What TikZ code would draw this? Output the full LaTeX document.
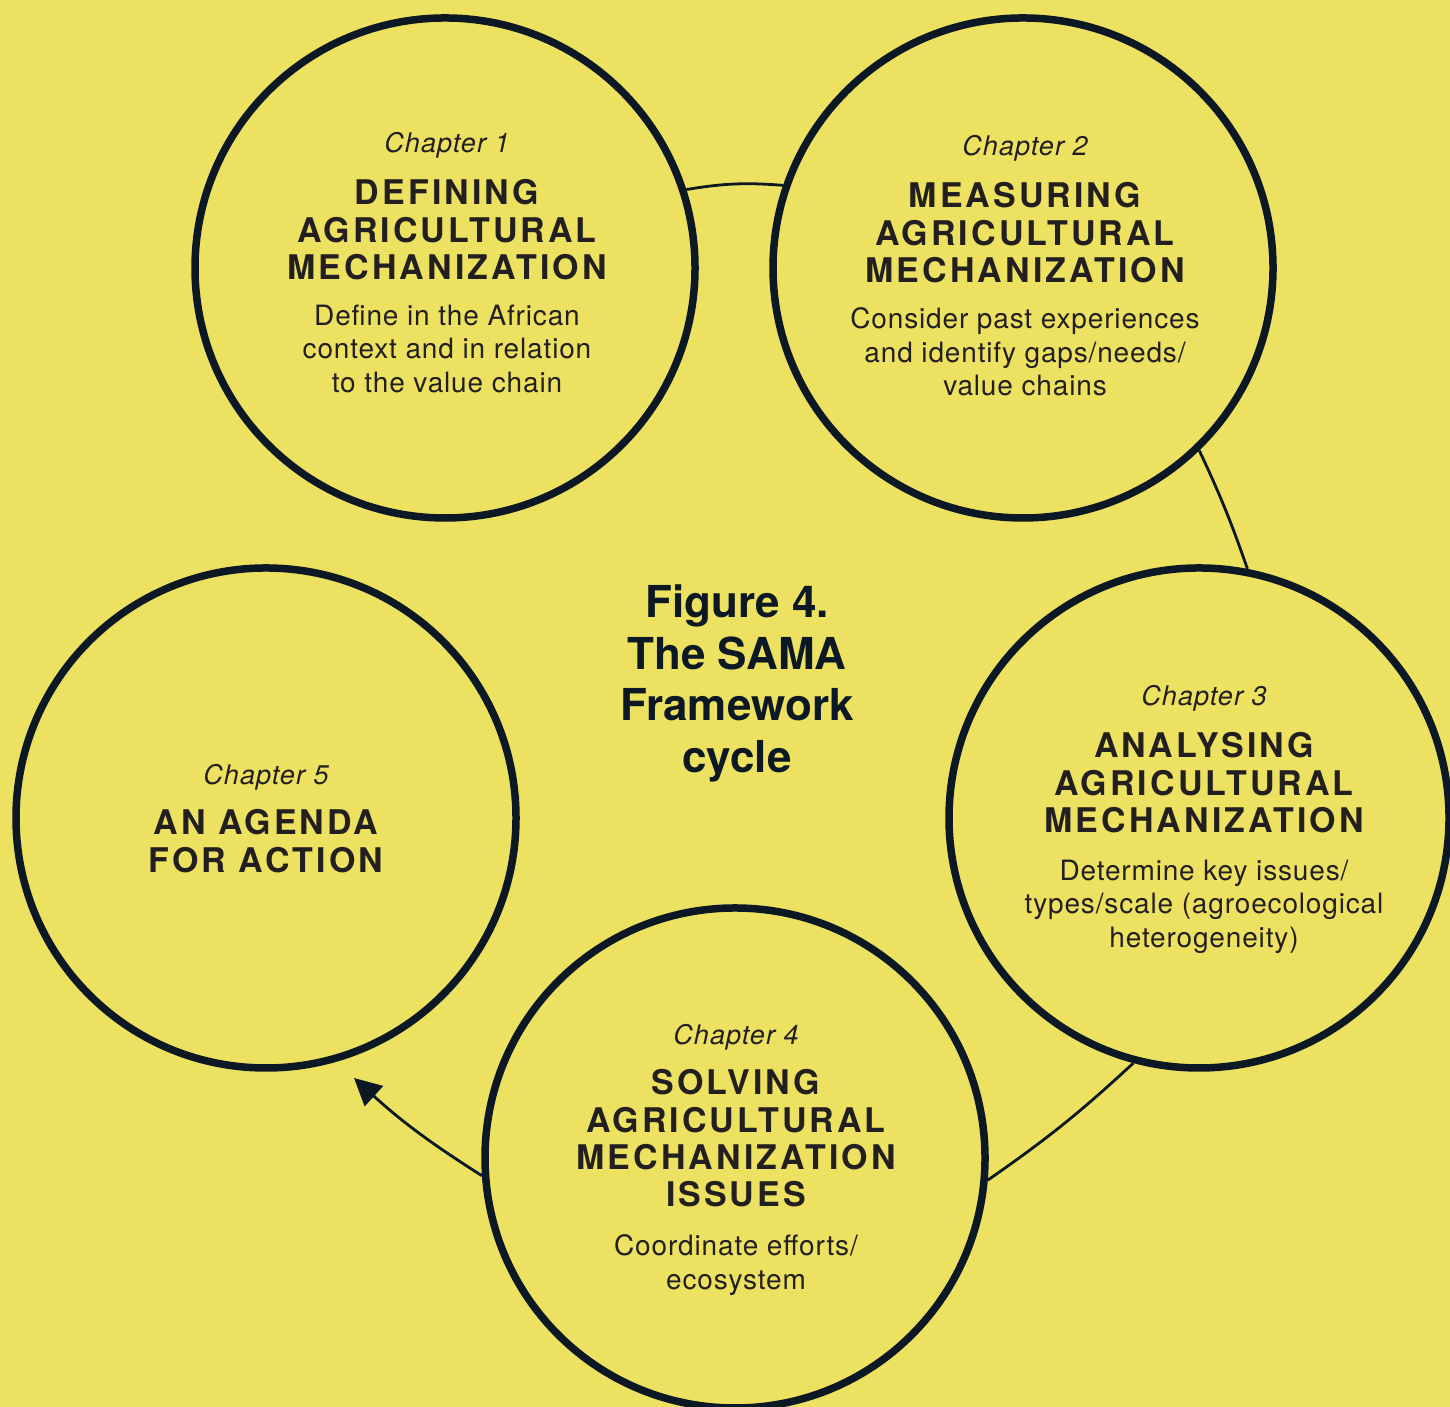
\documentclass[tikz,border=0pt]{standalone}
\usepackage{fontspec}
\setmainfont{TeX Gyre Heros}
\newfontfamily\chapfont[LetterSpace=4]{TeX Gyre Heros}
\newfontfamily\headfont[LetterSpace=9]{TeX Gyre Heros}
\newfontfamily\bodyfont[LetterSpace=3]{TeX Gyre Heros}
\usetikzlibrary{arrows.meta}
\definecolor{sama}{RGB}{236,225,96}
\definecolor{ink}{RGB}{12,24,36}
\definecolor{type}{RGB}{35,31,32}

\begin{document}
\begin{tikzpicture}[
    ring/.style={circle,draw=ink,line width=0.075cm,minimum size=5cm,inner sep=0pt},
    chap/.style={anchor=north,inner sep=0pt,text=type,font=\chapfont\itshape\fontsize{7.68pt}{9pt}\selectfont},
    head/.style={anchor=north,inner sep=0pt,align=center,text=type,font=\headfont\bfseries\fontsize{9.67pt}{10.61pt}\selectfont},
    body/.style={anchor=north,inner sep=0pt,align=center,text=type,font=\bodyfont\fontsize{7.97pt}{9.53pt}\selectfont},
    link/.style={draw=ink,line width=0.028cm}
  ]
  \useasboundingbox (0,0) rectangle (14.50,14.07);
  \fill[sama] (0,0) rectangle (14.50,14.07);

  % the five chapters
  \path (4.45,11.39) node[ring] (c1) {};
  \path (10.23,11.39) node[ring] (c2) {};
  \path (11.99,5.89) node[ring] (c3) {};
  \path (7.35,2.49) node[ring] (c4) {};
  \path (2.66,5.89) node[ring] (c5) {};

  \path (4.47,12.75) node[chap] (c1n) {Chapter 1};
  \path (4.47,12.28) node[head] (c1h) {DEFINING\\AGRICULTURAL\\MECHANIZATION};
  \path (4.47,11.03) node[body] (c1b) {Define in the African\\context and in relation\\to the value chain};

  \path (10.25,12.72) node[chap] (c2n) {Chapter 2};
  \path (10.25,12.25) node[head] (c2h) {MEASURING\\AGRICULTURAL\\MECHANIZATION};
  \path (10.25,11.00) node[body] (c2b) {Consider past experiences\\and identify gaps/needs/\\value chains};

  \path (12.04,7.22) node[chap] (c3n) {Chapter 3};
  \path (12.04,6.75) node[head] (c3h) {ANALYSING\\AGRICULTURAL\\MECHANIZATION};
  \path (12.04,5.48) node[body] (c3b) {Determine key issues/\\types/scale (agroecological\\heterogeneity)};

  \path (7.36,3.83) node[chap] (c4n) {Chapter 4};
  \path (7.36,3.38) node[head] (c4h) {SOLVING\\AGRICULTURAL\\MECHANIZATION\\ISSUES};
  \path (7.36,1.73) node[body] (c4b) {Coordinate efforts/\\ecosystem};

  \path (2.66,6.43) node[chap] (c5n) {Chapter 5};
  \path (2.66,5.98) node[head] (c5h) {AN AGENDA\\FOR ACTION};

  % title in the middle
  \path (7.37,8.23) node[anchor=north,inner sep=0pt,align=center,text=ink,
    font=\bfseries\fontsize{12.52pt}{14.71pt}\selectfont] (title) {Figure 4.\\The SAMA\\Framework\\cycle};

  % the cycle
  \coordinate (a5) at (3.54,3.29);
  \draw[link] (c1.18.6) to[bend left=7] (c2.161);
  \draw[link] (c2.314) to[bend left=3] (c3.79);
  \draw[link] (c3.255.5) to[bend left=4] (c4.355);
  \draw[link,-{Triangle[length=0.27cm,width=0.27cm]}] (c4.184) to[bend left=5] (a5);
\end{tikzpicture}
\end{document}
